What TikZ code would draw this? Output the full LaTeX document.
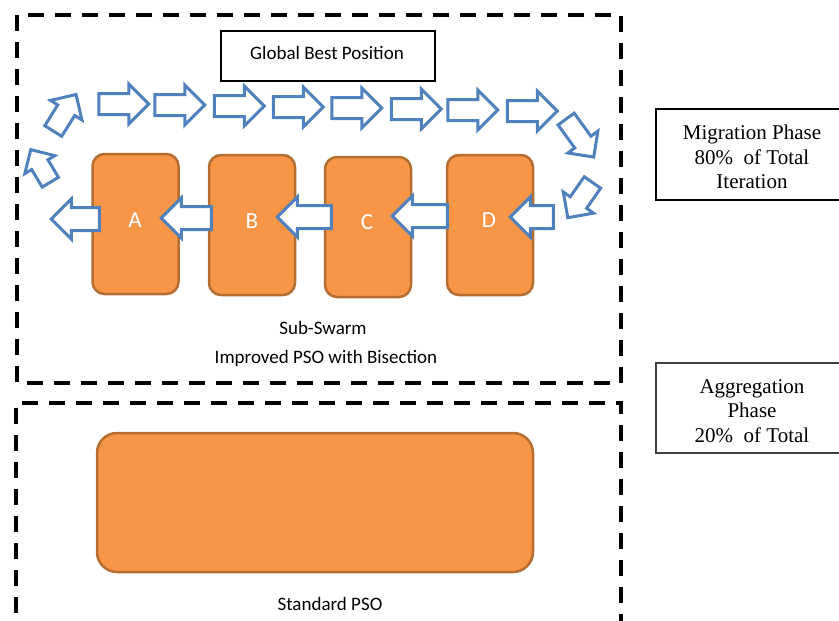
\documentclass[tikz,border=0pt]{standalone}
\usepackage{fontspec}
\setmainfont{Liberation Serif}
\newfontfamily\calibri{Carlito}
\usetikzlibrary{shapes.arrows}
\definecolor{orangefill}{HTML}{F79646}
\definecolor{orangeline}{HTML}{B66D31}
\definecolor{arrowblue}{HTML}{4F81BD}
\tikzset{
  dashbox/.style={line width=4pt, dash pattern=on 16pt off 11pt},
  swarmbox/.style={draw=orangeline, fill=orangefill, line width=2.5pt, rounded corners=12pt, inner sep=0pt},
  blockarrow/.style={single arrow, draw=arrowblue, fill=white, line width=3pt, inner xsep=0pt, inner ysep=9pt,
     minimum height=50pt, single arrow head extend=9.5pt},
  lefthead/.style={blockarrow, shape border rotate=180, inner ysep=10pt, single arrow head extend=8.5pt},
  calitext/.style={font=\calibri\fontsize{19}{23}\selectfont, inner sep=0pt},
  lettertext/.style={font=\calibri\fontsize{23}{27}\selectfont, text=white, inner sep=0pt},
  phasetext/.style={font=\fontsize{21}{24.5}\selectfont, align=center, inner sep=0pt}
}
\begin{document}
\begin{tikzpicture}[x=1pt,y=-1pt]
\useasboundingbox (0,0) rectangle (839,621);
\clip (0,0) rectangle (839,621);
% dashed frames
\draw[dashbox] (17,15) rectangle (621,383);
\draw[dashbox] (16,640) -- (16,403) -- (621,403) -- (621,640);
% global best
\node[draw=black, line width=1.2pt, minimum width=214pt, minimum height=50pt, inner sep=0pt] (gbest) at (328,56) {};
\node[calitext] (gbestt) at (327,53) {Global Best Position};
% right boxes
\node[draw=black, line width=1.2pt, minimum width=190pt, minimum height=91pt, inner sep=0pt] (mig) at (751,154.5) {};
\node[phasetext] (migt) at (752,157) {Migration Phase\\80\%\ \ of Total\\Iteration};
\node[draw=black!75, line width=1.2pt, minimum width=190pt, minimum height=90pt, inner sep=0pt] (agg) at (751,408) {};
\node[phasetext] (aggt) at (752,411) {Aggregation\\Phase\\20\%\ \ of Total};
% sub swarms
\node[swarmbox, minimum width=86pt, minimum height=140pt] (A) at (135.5,224) {};
\node[swarmbox, minimum width=86pt, minimum height=140pt] (B) at (252,225) {};
\node[swarmbox, minimum width=86pt, minimum height=140pt] (C) at (368,227) {};
\node[swarmbox, minimum width=86pt, minimum height=140pt] (D) at (490,225) {};
\node[lettertext] (At) at (135,220) {A};
\node[lettertext] (Bt) at (252,221) {B};
\node[lettertext] (Ct) at (367,222) {C};
\node[lettertext] (Dt) at (489,220) {D};
% standard PSO box
\node[swarmbox, rounded corners=20pt, minimum width=436pt, minimum height=139pt] (S) at (315,502.5) {};
% labels
\node[calitext] (sub) at (323,328) {Sub-Swarm};
\node[calitext] (imp) at (326,358) {Improved PSO with Bisection};
\node[calitext] (std) at (330,604) {Standard PSO};
% top arrows
\node[blockarrow] (t1) at (118.5,104) {};
\node[blockarrow] (t2) at (174.5,105) {};
\node[blockarrow] (t3) at (234,106) {};
\node[blockarrow] (t4) at (293,107) {};
\node[blockarrow] (t5) at (351.5,108) {};
\node[blockarrow] (t6) at (411,109) {};
\node[blockarrow] (t7) at (467.5,110) {};
\node[blockarrow] (t8) at (527,111) {};
% diagonal arrows
\node[blockarrow, minimum height=47pt, inner ysep=8.5pt, single arrow head extend=8.5pt, rotate=-54] (dr1) at (577,134) {};
\node[blockarrow, minimum height=43pt, inner ysep=8.5pt, single arrow head extend=8.5pt, rotate=-125] (dr2) at (583,196) {};
\node[blockarrow, minimum height=43pt, inner ysep=8.5pt, single arrow head extend=8.5pt, rotate=58] (dl1) at (62,117) {};
\node[blockarrow, minimum height=38pt, inner ysep=8pt, single arrow head extend=8pt, rotate=121] (dl2) at (43,170) {};
% bottom arrows (pointing left)
\node[lefthead, minimum height=48pt] (b0) at (81,219) {};
\node[lefthead, minimum height=50pt] (b1) at (192,218) {};
\node[lefthead, minimum height=54pt] (b2) at (310,217) {};
\node[lefthead, minimum height=55pt] (b3) at (425.5,216) {};
\node[lefthead, minimum height=43pt] (b4) at (537.5,217) {};
\end{tikzpicture}
\end{document}
